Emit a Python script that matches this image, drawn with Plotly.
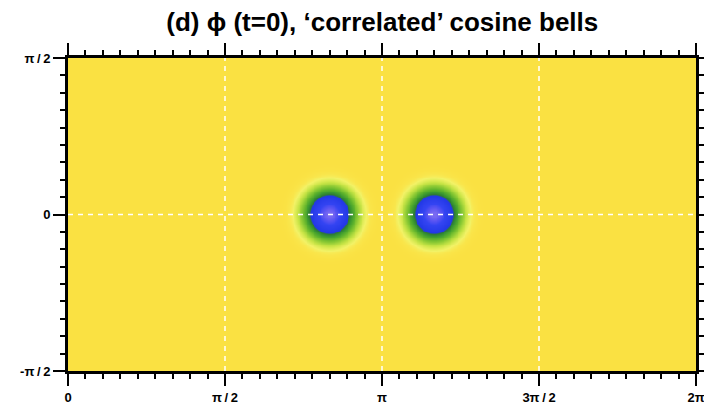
import numpy as np
import plotly.graph_objects as go

PI = np.pi

# Cosine-bell parameters (radians)
bell_lon = [5 * PI / 6, 7 * PI / 6]
bell_lat = [0.0, 0.0]
bell_radius = 0.5
bell_height = 0.9
bell_background = 0.1
# correlated tracer: phi = a * q**2 + b
corr_a = -0.8
corr_b = 0.9

# Axis ticks
x_tickvals = [0, PI / 2, PI, 3 * PI / 2, 2 * PI]
x_ticktext = ["0", "π\u2009/\u20092", "π", "3π\u2009/\u20092", "2π"]
y_tickvals = [-PI / 2, 0, PI / 2]
y_ticktext = ["-π\u2009/\u20092", "0", "π\u2009/\u20092"]
grid_x = [PI / 2, PI, 3 * PI / 2]
grid_y = [0.0]

# Field on a regular lon/lat grid
lon = np.linspace(0, 2 * PI, 721)
lat = np.linspace(-PI / 2, PI / 2, 361)
LON, LAT = np.meshgrid(lon, lat)
q = np.full(LON.shape, bell_background)
for lc, pc in zip(bell_lon, bell_lat):
    cosd = np.sin(pc) * np.sin(LAT) + np.cos(pc) * np.cos(LAT) * np.cos(LON - lc)
    d = np.arccos(np.clip(cosd, -1, 1))
    h = np.where(d < bell_radius, 0.5 * (1 + np.cos(PI * d / bell_radius)), 0.0)
    q = q + bell_height * h
phi = corr_a * q ** 2 + corr_b

zmin, zmax = 0.1, 0.9
stops = [
    (0.10, "#7a6af2"),
    (0.16, "#5a54f2"),
    (0.24, "#3444f2"),
    (0.48, "#2238e6"),
    (0.52, "#2e7a36"),
    (0.58, "#3a9830"),
    (0.66, "#5eb22c"),
    (0.73, "#8cca34"),
    (0.80, "#c8e446"),
    (0.85, "#f2f266"),
    (0.875, "#f9e64c"),
    (0.90, "#fbdf3e"),
]
colorscale = [[(v - zmin) / (zmax - zmin), c] for v, c in stops]

fig = go.Figure(
    go.Heatmap(
        x=lon, y=lat, z=phi, zmin=zmin, zmax=zmax,
        colorscale=colorscale, showscale=False, hoverinfo="skip",
    )
)

for gx in grid_x:
    fig.add_shape(type="line", x0=gx, x1=gx, y0=-PI / 2, y1=PI / 2, layer="above",
                  line=dict(color="white", width=1.5, dash="5px,5px"))
for gy in grid_y:
    fig.add_shape(type="line", x0=0, x1=2 * PI, y0=gy, y1=gy, layer="above",
                  line=dict(color="white", width=1.5, dash="5px,5px"))

axis_common = dict(
    showline=True, linecolor="black", linewidth=3, mirror="ticks",
    ticks="outside", ticklen=12, tickwidth=2, tickcolor="black",
    showgrid=False, zeroline=False, automargin=False,
    ticklabeloverflow="allow",
    tickfont=dict(family="Liberation Sans", size=13, color="black", weight="bold"),
)

fig.update_xaxes(
    range=[0, 2 * PI], tickmode="array", tickvals=x_tickvals, ticktext=x_ticktext,
    minor=dict(ticks="outside", tick0=0, dtick=PI / 18, ticklen=5, tickwidth=1.5,
               tickcolor="black", showgrid=False),
    **axis_common,
)
fig.update_yaxes(
    range=[-PI / 2, PI / 2], tickmode="array", tickvals=y_tickvals, ticktext=y_ticktext,
    minor=dict(ticks="outside", tick0=0, dtick=PI / 18, ticklen=5, tickwidth=1.5,
               tickcolor="black", showgrid=False),
    **axis_common,
)

fig.update_layout(
    width=704, height=407,
    margin=dict(l=68, r=8, t=58, b=36),
    paper_bgcolor="white", plot_bgcolor="white",
    title=dict(
        text="(d) ϕ (t=0), ‘correlated’ cosine bells",
        x=0.543, xanchor="center", y=0.945, yanchor="middle",
        font=dict(family="Liberation Sans", size=26, color="black", weight="bold"),
    ),
)

fig.write_html("out.html")
